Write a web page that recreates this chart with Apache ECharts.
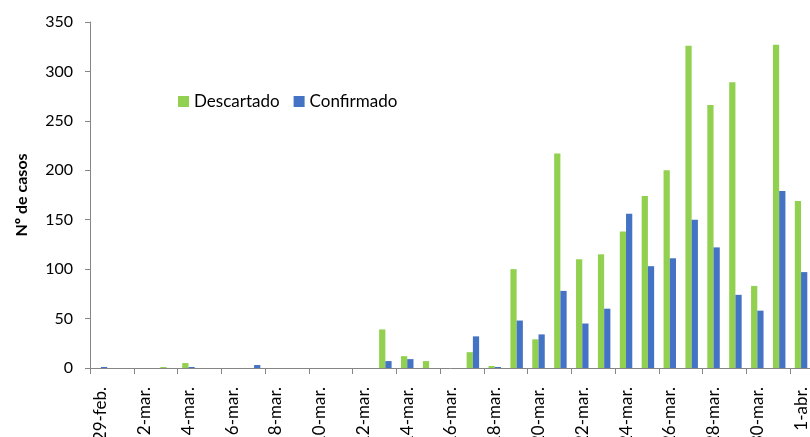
<!DOCTYPE html>
<html><head><meta charset="utf-8">
<script src="https://cdn.jsdelivr.net/npm/echarts@6/dist/echarts.min.js"></script>
<style>html,body{margin:0;padding:0;background:#fff}#c{width:810px;height:437px}</style>
</head><body><div id="c"></div>
<script>
const categories = ['29-feb.','1-mar.','2-mar.','3-mar.','4-mar.','5-mar.','6-mar.','7-mar.','8-mar.','9-mar.','10-mar.','11-mar.','12-mar.','13-mar.','14-mar.','15-mar.','16-mar.','17-mar.','18-mar.','19-mar.','20-mar.','21-mar.','22-mar.','23-mar.','24-mar.','25-mar.','26-mar.','27-mar.','28-mar.','29-mar.','30-mar.','31-mar.','1-abr.'];
const descartado = [0,0,0,1,5,0,0,0,0,0,0,0,0,39,12,7,0,16,2,100,29,217,110,115,138,174,200,326,266,289,83,327,169];
const confirmado = [1,0,0,0,1,0,0,3,0,0,0,0,0,7,9,0,0,32,1,48,34,78,45,60,156,103,111,150,122,74,58,179,97];
const yTicks = {min:0, max:350, interval:50};
const font = 'Lato, "Open Sans", sans-serif';
const chart = echarts.init(document.getElementById('c'));
chart.setOption({
  animation:false,
  textStyle:{fontFamily:font},
  grid:{left:90,top:22,width:722,height:346,containLabel:false,outerBoundsMode:'none'},
  legend:{left:173,top:88,itemWidth:11,itemHeight:11,itemGap:14,icon:'rect',
    textStyle:{fontFamily:font,fontSize:17,color:'#000',padding:[0,0,0,0]},data:['Descartado','Confirmado']},
  xAxis:{type:'category',data:categories,
    axisLine:{lineStyle:{color:'#868686',width:1}},
    axisTick:{show:true,interval:1,length:6,lineStyle:{color:'#868686'}},
    axisLabel:{interval:1,rotate:90,fontSize:17,color:'#000',margin:19,fontFamily:font}},
  yAxis:{type:'value',min:yTicks.min,max:yTicks.max,interval:yTicks.interval,
    name:'Nº de casos',nameLocation:'middle',nameGap:60,
    nameTextStyle:{fontSize:16,fontWeight:'bold',color:'#000',fontFamily:font},
    axisLine:{show:true,lineStyle:{color:'#868686'}},
    axisTick:{show:true,length:5,lineStyle:{color:'#868686'}},
    splitLine:{show:false},
    axisLabel:{fontSize:16,color:'#000',margin:17,fontFamily:font}},
  series:[
    {name:'Descartado',type:'bar',data:descartado,barGap:'0%',barCategoryGap:'43%',itemStyle:{color:'#92D050'}},
    {name:'Confirmado',type:'bar',data:confirmado,barGap:'0%',barCategoryGap:'43%',itemStyle:{color:'#4472C4'}}
  ]
});
</script></body></html>
